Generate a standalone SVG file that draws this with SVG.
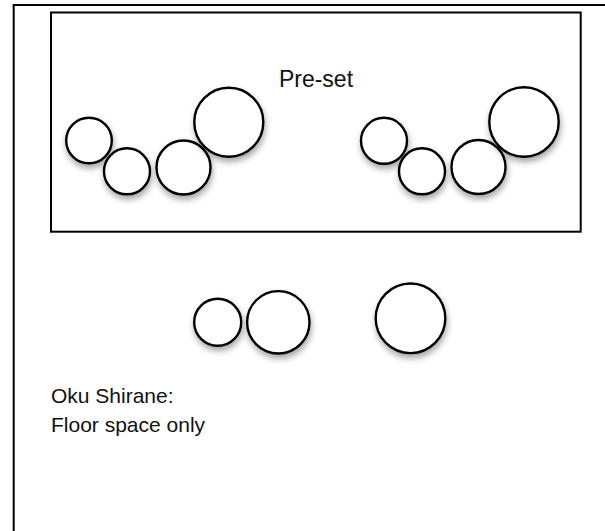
<svg xmlns="http://www.w3.org/2000/svg" width="605" height="531" viewBox="0 0 605 531">
<defs>
<filter id="sh" x="-30%" y="-30%" width="160%" height="170%">
<feDropShadow dx="1" dy="4" stdDeviation="3" flood-color="#000" flood-opacity="0.35"/>
</filter>
<style>
.c{fill:#fff;stroke:#000;stroke-width:2.4;filter:url(#sh)}
.b{fill:none;stroke:#000;stroke-width:2}
.t{font-family:"Liberation Sans",Arial,sans-serif;fill:#111}
</style>
</defs>
<rect width="605" height="531" fill="#fff"/>
<g id="outer"><rect class="b" x="13.7" y="5" width="700" height="600"/></g>
<g id="preset">
<rect class="b" x="51" y="12.5" width="529.7" height="219.2"/>
<text class="t" x="316" y="87" font-size="23" text-anchor="middle">Pre-set</text>
</g>
<g id="left-group">
<circle id="l1" class="c" cx="89" cy="140.5" r="22.8"/>
<circle id="l2" class="c" cx="127" cy="171.3" r="23"/>
<circle id="l3" class="c" cx="183.5" cy="167.5" r="27"/>
<circle id="l4" class="c" cx="228.8" cy="122.2" r="34.5"/>
</g>
<g id="right-group">
<circle id="r1" class="c" cx="384" cy="140.8" r="23"/>
<circle id="r2" class="c" cx="422" cy="171.3" r="23"/>
<circle id="r3" class="c" cx="478.5" cy="167" r="27"/>
<circle id="r4" class="c" cx="524" cy="122" r="34.7"/>
</g>
<g id="bottom-group">
<circle id="b1" class="c" cx="217.7" cy="322.2" r="23.5"/>
<circle id="b2" class="c" cx="278.3" cy="322.3" r="31.2"/>
<circle id="b3" class="c" cx="410.5" cy="318.3" r="34.8"/>
</g>
<g id="note">
<text class="t" x="51" y="402.7" font-size="21">Oku Shirane:</text>
<text class="t" x="51" y="431.7" font-size="21">Floor space only</text>
</g>
<g id="connectors"/>
</svg>
